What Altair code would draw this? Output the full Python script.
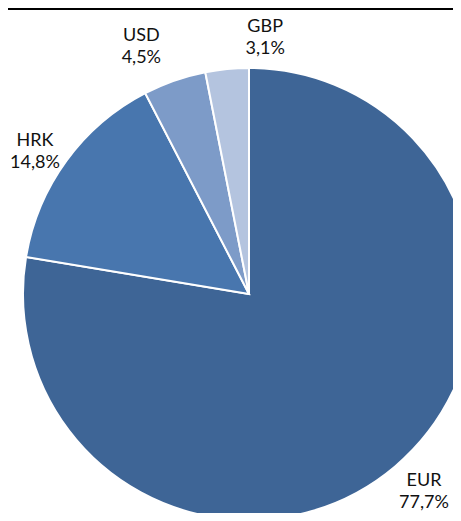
import altair as alt
import pandas as pd

categories = ["EUR", "HRK", "USD", "GBP"]
shares = [77.7, 14.8, 4.5, 3.1]
share_labels = ["77,7%", "14,8%", "4,5%", "3,1%"]
colors = ["#3E6596", "#4876AE", "#7D9BC8", "#B4C4DF"]

df = pd.DataFrame({
    "cat": categories,
    "share": shares,
    "order": list(range(len(categories))),
    "label": [f"{c}\n{p}" for c, p in zip(categories, share_labels)],
})

W, H = 445, 505
CX, CY, R = 241, 286, 226

base = alt.Chart(df).encode(
    theta=alt.Theta("share:Q", stack=True),
    order=alt.Order("order:Q"),
)

pie = base.mark_arc(radius=R, stroke="white", strokeWidth=2, clip=True).encode(
    x=alt.value(CX), y=alt.value(CY),
    color=alt.Color("cat:N", scale=alt.Scale(domain=categories, range=colors), legend=None),
)

# label nudges (style only), like the spreadsheet's best-fit placement
nudges = {"EUR": (3, -16), "HRK": (1, 4), "USD": (-20, -7), "GBP": (42, -2)}

texts = []
for cat, (dx, dy) in nudges.items():
    texts.append(
        base.mark_text(radius=266, font="Lato", fontSize=18, lineBreak="\n",
                       lineHeight=22, color="#111111", align="center",
                       baseline="middle", dx=dx, dy=dy).encode(
            x=alt.value(CX), y=alt.value(CY),
            text="label:N",
            opacity=alt.condition(alt.datum.cat == cat, alt.value(1), alt.value(0)),
        )
    )

top = alt.Chart(df).mark_rule(color="black", strokeWidth=2).encode(
    x=alt.value(0), x2=alt.value(W), y=alt.value(1)
)

chart = alt.layer(pie, *texts, top).properties(
    width=W, height=H, padding=0, autosize=alt.AutoSizeParams(type="none")
).configure_view(stroke=None)

chart.save("out.html", embed_options={"renderer": "svg", "actions": False})
